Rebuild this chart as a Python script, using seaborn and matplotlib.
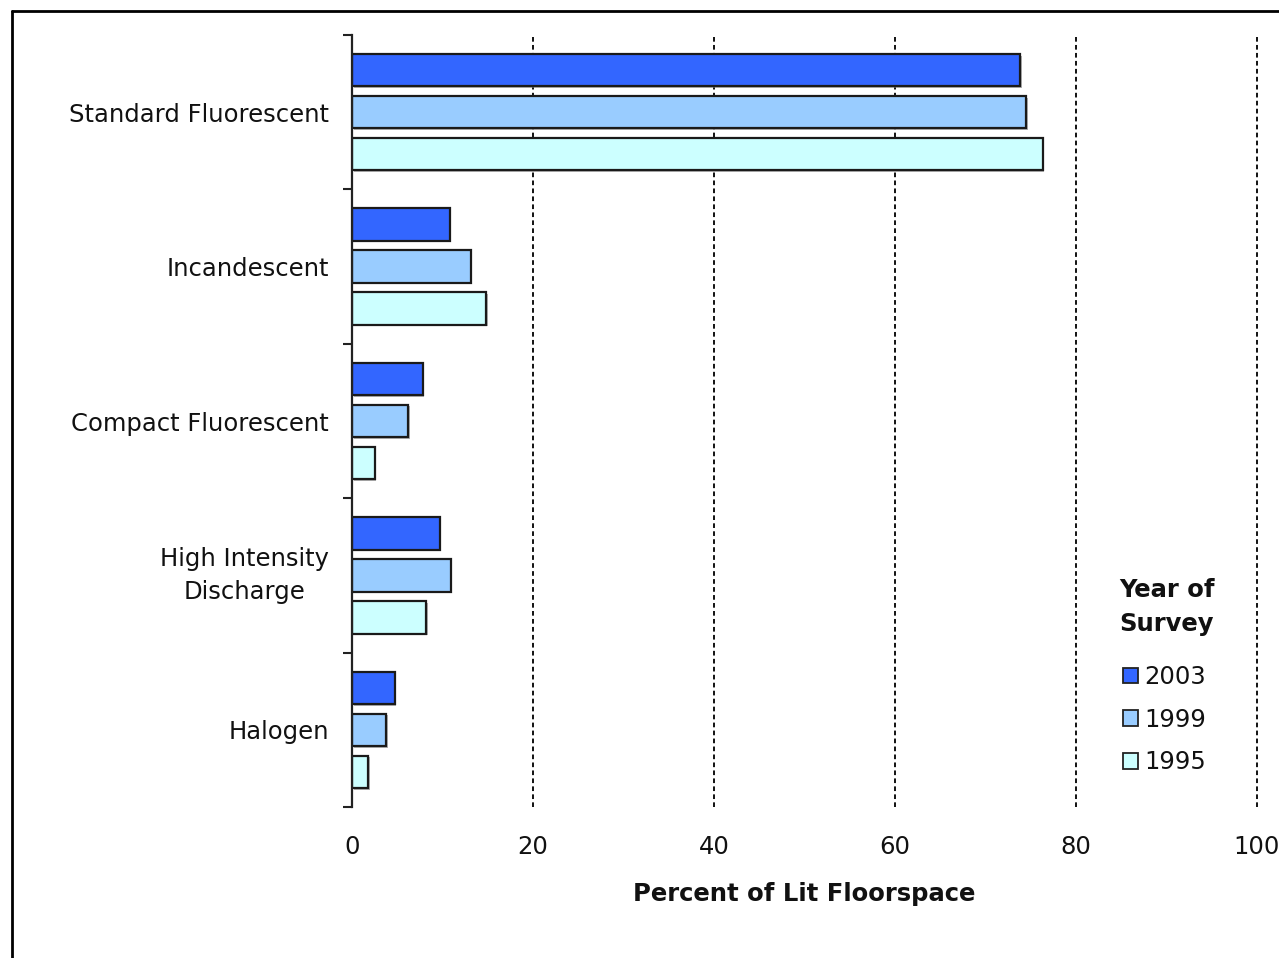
import matplotlib
matplotlib.use("Agg")
import matplotlib.pyplot as plt
import matplotlib.patches as mpatches
import matplotlib.patheffects as pe
from matplotlib.lines import Line2D
import seaborn as sns
import pandas as pd

categories = ["Standard Fluorescent", "Incandescent", "Compact Fluorescent",
              "High Intensity\nDischarge", "Halogen"]
years = ["2003", "1999", "1995"]
values_2003 = [73.8, 10.8, 7.8, 9.7, 4.7]
values_1999 = [74.5, 13.1, 6.2, 10.9, 3.8]
values_1995 = [76.3, 14.8, 2.5, 8.2, 1.8]
colors = ["#3366FF", "#99CCFF", "#CCFFFF"]
x_ticks = [0, 20, 40, 60, 80, 100]

rows = []
for yr, vals in zip(years, [values_2003, values_1999, values_1995]):
    for c, v in zip(categories, vals):
        rows.append({"Category": c, "Year": yr, "Value": v})
df = pd.DataFrame(rows)

sns.set_style("white")
plt.rcParams["font.family"] = ["DejaVu Sans"]
FS = 17.5
TXT = "#111111"

fig = plt.figure(figsize=(12.79, 9.58), dpi=100)
W, H = 1279, 958
ax = fig.add_axes([352 / W, 1 - 807 / H, (1257 - 352) / W, (807 - 35) / H])

sns.barplot(data=df, y="Category", x="Value", hue="Year", order=categories,
            hue_order=years, palette=colors, saturation=1, orient="h",
            width=0.816, gap=0.23, edgecolor="#1a1a1a", linewidth=1.6,
            legend=False, ax=ax)

for p in ax.patches:
    p.set_path_effects([pe.SimplePatchShadow(offset=(1.2, -1.2),
                                             shadow_rgbFace="#808080", alpha=0.6),
                        pe.Normal()])

ax.set_xlim(0, 100)
ax.set_ylim(4.5, -0.5)
ax.set_xticks(x_ticks)
ax.set_xticklabels([str(t) for t in x_ticks], fontsize=FS, color=TXT)
ax.tick_params(axis="x", length=0, pad=20)
ax.set_yticks(range(len(categories)))
ax.set_yticklabels(categories, fontsize=FS, color=TXT)
for lab in ax.get_yticklabels():
    lab.set_multialignment("center")
    lab.set_linespacing(1.45)
    if "\n" in lab.get_text():
        lab.set_verticalalignment("center")
ax.set_yticks([i - 0.5 for i in range(len(categories) + 1)], minor=True)
ax.tick_params(axis="y", which="major", length=0, pad=16.5)
ax.tick_params(axis="y", which="minor", length=6.5, width=1.5, color="#222222",
               direction="out", left=True)

ax.set_xlabel("Percent of Lit Floorspace", fontsize=FS, fontweight="bold",
              labelpad=17, color=TXT)
ax.set_ylabel("")

ax.xaxis.grid(True, linestyle=(0, (2.4, 1.7)), color="#111111", linewidth=1.4)
for gl in ax.get_xgridlines():
    gl.set_clip_on(False)
ax.set_axisbelow(True)
for s in ["top", "right", "bottom"]:
    ax.spines[s].set_visible(False)
ax.spines["left"].set_color("#222222")
ax.spines["left"].set_linewidth(1.6)

# legend title
fig.text(1119 / W, 1 - 578 / H, "Year of\nSurvey", ha="left", va="top",
         fontsize=FS, fontweight="bold", color=TXT, linespacing=1.5)

handles = [mpatches.Patch(facecolor=c, edgecolor="#222222", linewidth=1.3, label=y)
           for c, y in zip(colors, years)]
leg = fig.legend(handles=handles, loc="upper left",
                 bbox_to_anchor=(1123 / W, 1 - 665 / H), frameon=False,
                 fontsize=FS, handlelength=0.62, handleheight=0.62,
                 handletextpad=0.25, labelspacing=0.77, borderpad=0,
                 borderaxespad=0)
for t in leg.get_texts():
    t.set_color(TXT)

# outer border
fig.add_artist(Line2D([12 / W, 1.0], [1 - 10.5 / H, 1 - 10.5 / H],
                      transform=fig.transFigure, color="black", linewidth=2))
fig.add_artist(Line2D([12 / W, 12 / W], [0.0, 1 - 10.5 / H],
                      transform=fig.transFigure, color="black", linewidth=2))

fig.savefig("out.png", dpi=100, facecolor="white")
